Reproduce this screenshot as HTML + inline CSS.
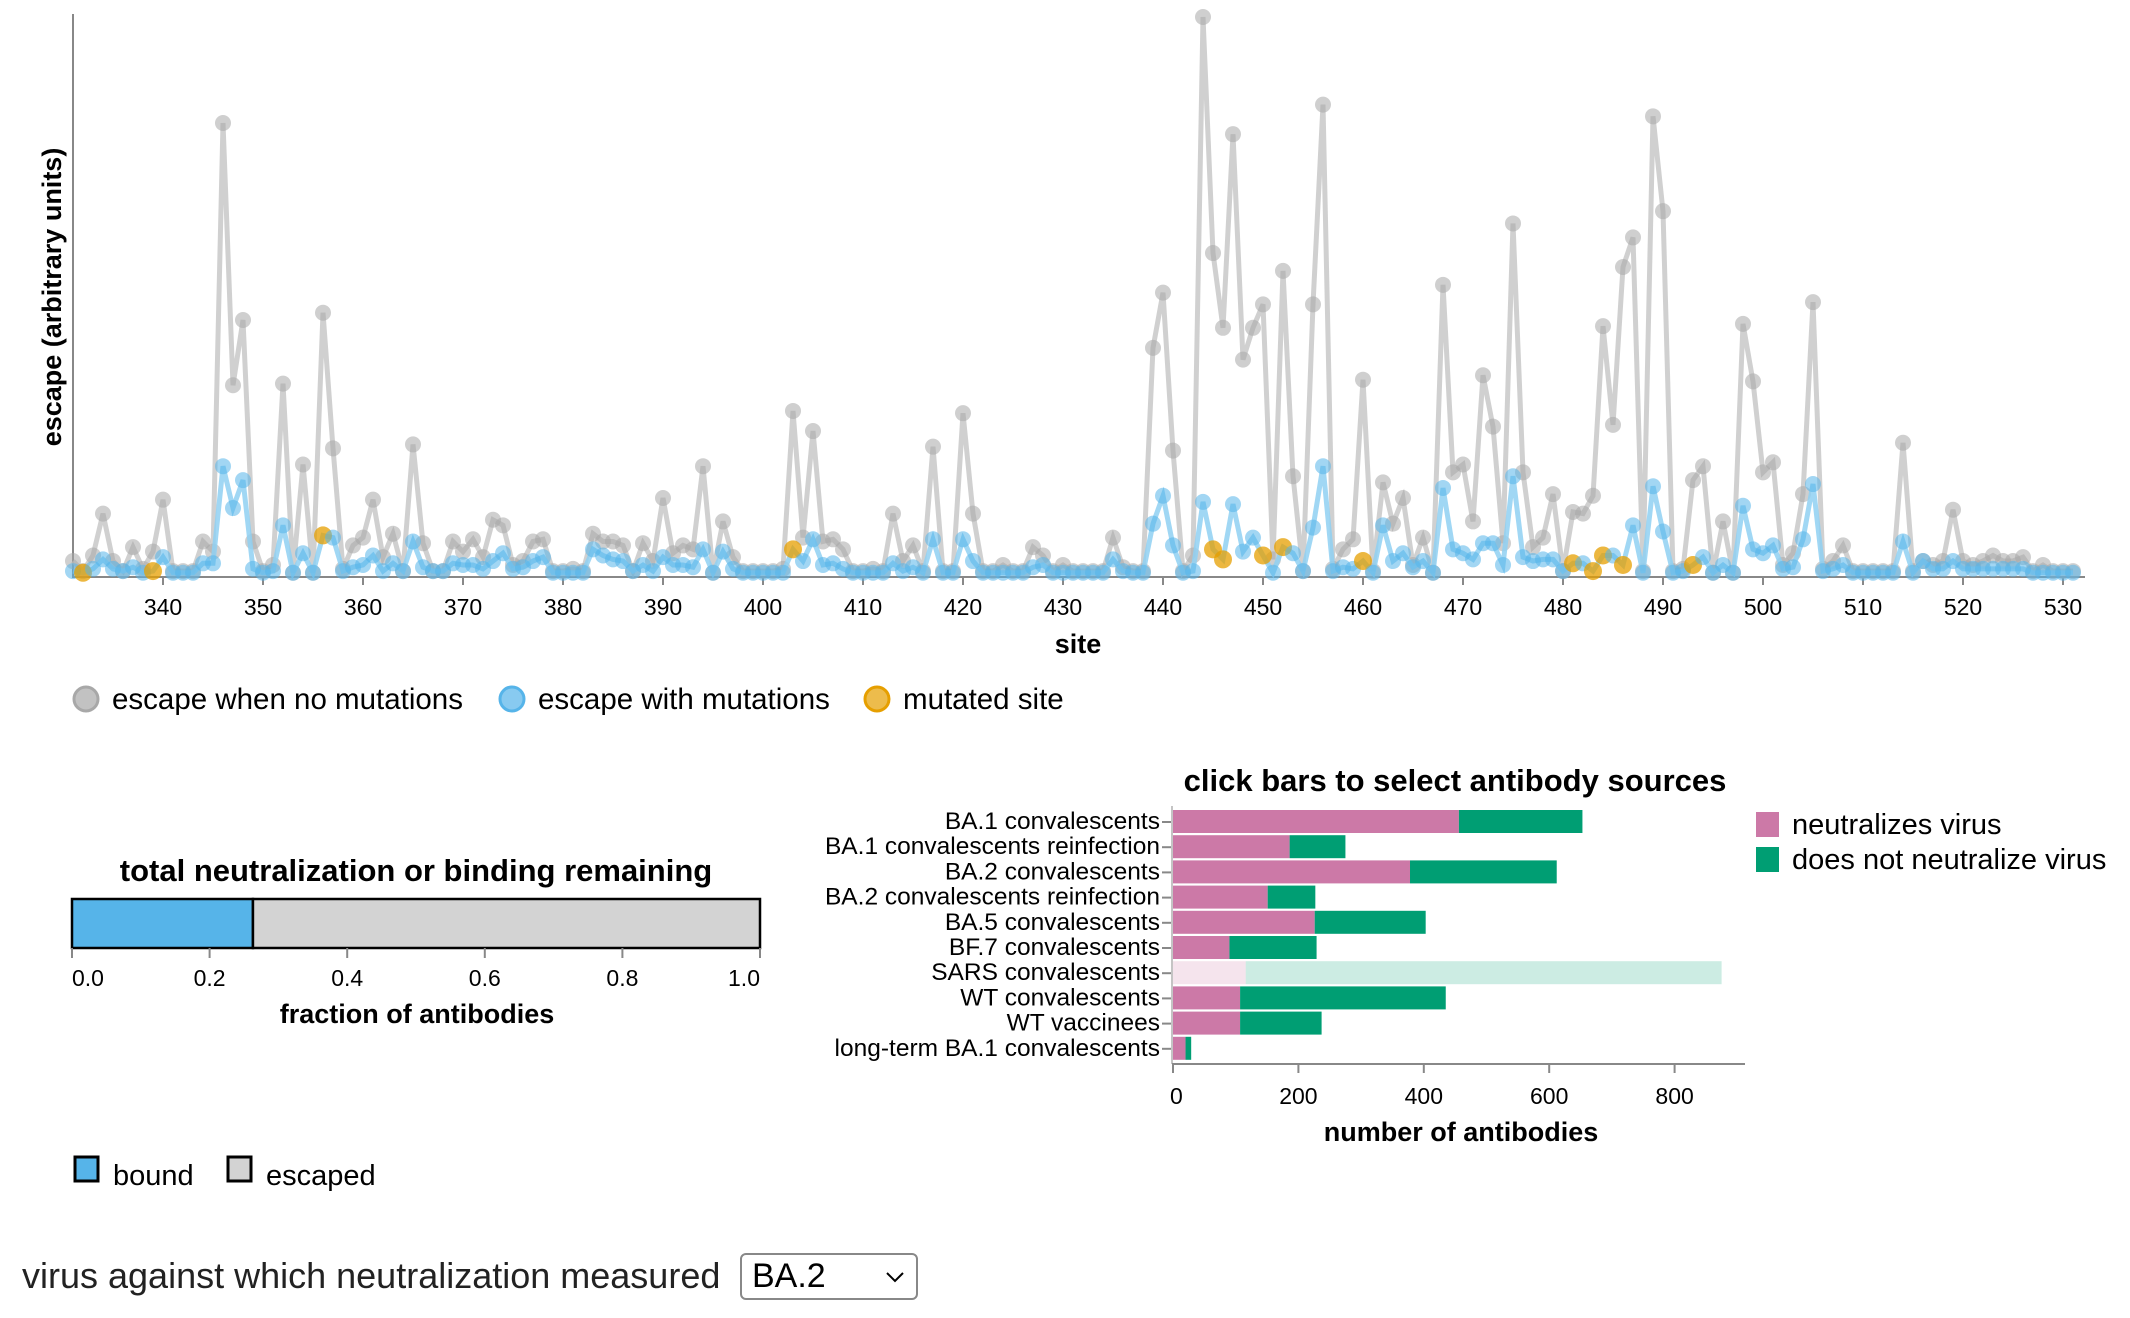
<!DOCTYPE html>
<html><head><meta charset="utf-8">
<style>
html,body{margin:0;padding:0;background:#fff;}
body{width:2130px;height:1318px;position:relative;overflow:hidden;font-family:"Liberation Sans",Arial,sans-serif;}
svg text{font-family:"Liberation Sans",Arial,sans-serif;}
#sel-label{position:absolute;left:22px;top:1255px;font-size:36px;color:#222;}
#virus-select{position:absolute;left:740px;top:1253px;width:178px;height:47px;border:2px solid #888;border-radius:6px;box-sizing:border-box;font-size:34px;color:#000;padding-left:10px;line-height:43px;}
</style></head>
<body>
<svg id="main" width="2130" height="1318" style="position:absolute;left:0;top:0"></svg>
<div id="sel-label">virus against which neutralization measured</div>
<div id="virus-select">BA.2<svg style="position:absolute;right:12px;top:16px" width="18" height="12"><polyline points="1,2 9,10 17,2" fill="none" stroke="#000" stroke-width="2"/></svg></div>
<script>
// ---------- line chart data ----------
const siteStart = 331;
const escapeNoMut = [2.5,0.7,3.5,11,2.5,0.7,5,1.1,4.2,13.5,
0.7,0.7,0.7,6,4.2,81,34,45.7,6,0.7,
1.8,34.3,0.4,19.8,0.4,47,22.7,1.1,5.3,6.7,
13.5,3.2,7.4,0.7,23.4,5.7,0.7,0.7,6,4.2,
6.4,3.2,9.9,8.9,1.8,2.5,6,6.4,0.7,0.7,
1.1,0.7,7.4,6,6,5.3,0.7,5.7,2.5,13.8,
3.9,5.3,4.6,19.5,0.4,9.6,3.2,0.7,0.7,0.7,
0.7,1.1,29.4,6.7,25.8,6,6.4,4.6,0.7,0.7,
1.1,0.7,11,2.5,5.3,0.7,23,0.7,0.7,29,
11,0.7,0.7,1.8,0.7,0.7,5,3.5,0.7,1.8,
0.7,0.7,0.7,0.7,6.7,1.4,0.7,0.7,40.7,50.6,
22.3,0.7,3.5,100,57.7,44.3,79,38.6,44.3,48.5,
2.8,54.5,17.7,0.7,48.5,84.3,1.1,4.6,6.4,35,
0.7,16.6,9.2,13.8,1.8,6.7,0.4,52,18.4,19.8,
9.6,35.8,26.6,5.7,63,18.4,5,6.7,14.5,0.7,
11.3,11,14.2,44.6,26.9,55.2,60.5,0.7,82.2,65.2,
0.7,1.1,17,19.5,0.4,9.6,0.4,45,34.7,18.4,
20.2,1.8,3.9,14.5,48.9,1.1,2.5,5.3,0.7,0.7,
0.7,0.7,0.7,23.7,0.7,2.5,1.8,2.5,11.7,2.5,
1.8,2.5,3.5,2.5,2.5,3.2,0.7,1.8,0.7,0.7,0.7];
const escapeWithMut = [0.7,0.4,1.1,2.8,1.1,0.7,1.4,0.4,0.7,3.2,
0.4,0.4,0.4,2.1,2.1,19.5,12,17,1.1,0.4,
0.7,8.9,0.4,3.9,0.4,7.1,6.7,0.7,1.4,1.8,
3.5,0.7,2.1,0.7,6,1.4,0.7,0.7,2.1,1.8,
1.8,1.1,2.5,3.9,1.1,1.4,2.5,3.2,0.4,0.4,
0.4,0.4,4.6,3.5,2.8,2.5,0.7,1.8,0.7,3.2,
1.8,1.8,1.4,4.6,0.4,4.2,1.1,0.4,0.4,0.4,
0.4,0.4,4.6,2.5,6.4,1.8,2.1,1.1,0.4,0.4,
0.4,0.4,2.1,0.7,1.4,0.4,6.4,0.4,0.4,6.4,
2.5,0.4,0.4,0.4,0.4,0.4,1.4,1.8,0.4,0.4,
0.4,0.4,0.4,0.4,2.8,0.7,0.4,0.4,9.2,14.2,
5.3,0.4,0.7,13.1,4.6,2.8,12.7,4.2,6.7,3.5,
0.4,5,3.9,0.7,8.5,19.5,0.7,1.4,1.1,2.5,
0.4,8.9,2.5,3.9,1.4,2.5,0.4,15.6,4.6,3.9,
2.8,5.7,5.7,1.8,17.7,3.2,2.5,2.8,2.8,0.7,
2.1,2.1,0.7,3.5,3.5,1.8,8.9,0.4,15.9,7.8,
0.4,0.7,1.8,3.2,0.4,1.8,0.4,12.4,4.6,3.9,
5.3,1.1,1.4,6.4,16.3,0.7,1.1,1.8,0.4,0.4,
0.4,0.4,0.4,6,0.4,2.5,1.1,1.1,2.5,1.1,
1.1,1.1,1.1,1.1,1.1,1.1,0.4,0.4,0.4,0.4,0.4];
const mutatedSites = [332,339,356,403,445,446,450,452,460,481,483,484,486,493];
const siteTicks = [340,350,360,370,380,390,400,410,420,430,440,450,460,470,480,490,500,510,520,530];

// ---------- bar chart data ----------
const sources = ["BA.1 convalescents","BA.1 convalescents reinfection","BA.2 convalescents","BA.2 convalescents reinfection","BA.5 convalescents","BF.7 convalescents","SARS convalescents","WT convalescents","WT vaccinees","long-term BA.1 convalescents"];
const neutralizing = [456,186,378,151,226,90,116,107,107,20];
const nonNeutralizing = [197,89,234,76,177,139,759,328,130,9];
const selectedSource = [true,true,true,true,true,true,false,true,true,true];
const countTicks = [0,200,400,600,800];

// ---------- fraction bar data ----------
const fractionBound = [0.263];
const fractionTicks = [0.0,0.2,0.4,0.6,0.8,1.0];

const NS = "http://www.w3.org/2000/svg";
const svg = document.getElementById('main');
function mk(tag, attrs, parent, text){
  const e = document.createElementNS(NS, tag);
  for (const k in attrs) e.setAttribute(k, attrs[k]);
  if (text !== undefined) e.textContent = text;
  (parent||svg).appendChild(e);
  return e;
}

// ===== line chart =====
const xS = s => 163 + (s - 340) * 10;
const yS = v => 575 - v * 5.58;
const lc = mk('g', {});


const yAxis = mk('line', {x1:73,y1:14,x2:73,y2:577,stroke:'#888','stroke-width':2}, lc);


const xAxis = mk('line', {x1:72,y1:577,x2:2085,y2:577,stroke:'#888','stroke-width':2}, lc);


siteTicks.forEach(t => {
  mk('line', {x1:xS(t),y1:577,x2:xS(t),y2:585,stroke:'#888','stroke-width':2}, lc);
  const tl = mk('text', {x:xS(t),y:615,'text-anchor':'middle','font-size':23,fill:'#000'}, lc, String(t));
  
  
});
const xt = mk('text', {x:1078,y:653,'text-anchor':'middle','font-size':27,'font-weight':'bold'}, lc, 'site');


const yt = mk('text', {x:0,y:0,'text-anchor':'middle','font-size':27,'font-weight':'bold',transform:'translate(61,297) rotate(-90)'}, lc, 'escape (arbitrary units)');



function series(vals, lineColor, ptColor, name){
  const pts = vals.map((v,i) => xS(siteStart+i).toFixed(1)+','+yS(v).toFixed(1)).join(' ');
  const pl = mk('polyline', {points:pts,fill:'none',stroke:lineColor,'stroke-width':5,'stroke-linejoin':'miter','stroke-opacity':0.85}, lc);
  
  
  vals.forEach((v,i) => {
    const s = siteStart + i;
    const mut = mutatedSites.indexOf(s) >= 0 && name === 'escape-with-mutations';
    const c = mk('circle', {cx:xS(s),cy:yS(v),r:mut?9:8,fill:mut?'#e69f00':ptColor,'fill-opacity':mut?0.75:0.55}, lc);
    
    
  });
}
series(escapeNoMut, '#c8c8c8', '#a8a8a8', 'escape-no-mutations');
series(escapeWithMut, '#8fd0f2', '#56b4e9', 'escape-with-mutations');

// legend
const lg = mk('g', {});


[[86,'#a8a8a8','escape when no mutations'],[512,'#56b4e9','escape with mutations'],[877,'#e69f00','mutated site']].forEach(d => {
  const g = mk('g', {}, lg);
  
  
  mk('circle', {cx:d[0],cy:699,r:12,fill:d[1],'fill-opacity':0.7,stroke:d[1],'stroke-width':3}, g);
  mk('text', {x:d[0]+26,y:709,'font-size':29.5}, g, d[2]);
});

// ===== fraction bar =====
const fb = mk('g', {});


const fx = f => 72 + f * 688;
const ft = mk('text', {x:416,y:881,'text-anchor':'middle','font-size':31,'font-weight':'bold'}, fb, 'total neutralization or binding remaining');


const bb = mk('rect', {x:fx(0),y:899,width:fx(fractionBound[0])-fx(0),height:49,fill:'#56b4e9',stroke:'#000','stroke-width':2.5}, fb);


const eb = mk('rect', {x:fx(fractionBound[0]),y:899,width:fx(1)-fx(fractionBound[0]),height:49,fill:'#d3d3d3',stroke:'#000','stroke-width':2.5}, fb);


fractionTicks.forEach((t,i) => {
  mk('line', {x1:fx(t),y1:948,x2:fx(t),y2:958,stroke:'#888','stroke-width':2}, fb);
  const anchor = i===0?'start':(i===fractionTicks.length-1?'end':'middle');
  const l = mk('text', {x:fx(t),y:986,'text-anchor':anchor,'font-size':23}, fb, t.toFixed(1));
  
  
});
const fat = mk('text', {x:417,y:1023,'text-anchor':'middle','font-size':27,'font-weight':'bold'}, fb, 'fraction of antibodies');


[[73,'#56b4e9','bound'],[226,'#d3d3d3','escaped']].forEach(d => {
  const g = mk('g', {}, fb);
  
  
  mk('rect', {x:d[0]+2,y:1157,width:23,height:24,fill:d[1],stroke:'#000','stroke-width':3}, g);
  mk('text', {x:d[0]+40,y:1185,'font-size':29}, g, d[2]);
});

// ===== antibody source bar chart =====
const bc = mk('g', {});


const cx = v => 1173 + v * 0.627;
const rowY = i => 810 + i * 25.2;
const bt = mk('text', {x:1455,y:791,'text-anchor':'middle','font-size':31,'font-weight':'bold'}, bc, 'click bars to select antibody sources');


sources.forEach((s,i) => {
  const y = rowY(i);
  const op = selectedSource[i] ? 1 : 0.2;
  const r1 = mk('rect', {x:cx(0),y:y,width:cx(neutralizing[i])-cx(0),height:23,fill:'#cc79a7','fill-opacity':op}, bc);
  
  
  const r2 = mk('rect', {x:cx(neutralizing[i]),y:y,width:cx(neutralizing[i]+nonNeutralizing[i])-cx(neutralizing[i]),height:23,fill:'#009e73','fill-opacity':op}, bc);
  
  
  mk('line', {x1:1162,y1:y+12,x2:1171,y2:y+12,stroke:'#888','stroke-width':2}, bc);
  const l = mk('text', {x:1160,y:y+19,'text-anchor':'end','font-size':24.5}, bc, s);
  
  
});
const ba = mk('line', {x1:1172,y1:1064,x2:1745,y2:1064,stroke:'#888','stroke-width':2}, bc);


mk('line', {x1:1172,y1:806,x2:1172,y2:1064,stroke:'#888','stroke-width':1}, bc);
countTicks.forEach(t => {
  mk('line', {x1:cx(t),y1:1064,x2:cx(t),y2:1073,stroke:'#888','stroke-width':2}, bc);
  const l = mk('text', {x:t===0?cx(t)-3:cx(t),y:1104,'text-anchor':t===0?'start':'middle','font-size':23}, bc, String(t));
  
  
});
const cat = mk('text', {x:1461,y:1141,'text-anchor':'middle','font-size':27,'font-weight':'bold'}, bc, 'number of antibodies');


[[812,'#cc79a7','neutralizes virus'],[847,'#009e73','does not neutralize virus']].forEach(d => {
  const g = mk('g', {}, bc);
  
  
  mk('rect', {x:1756,y:d[0],width:23,height:25,fill:d[1]}, g);
  mk('text', {x:1792,y:d[0]+22,'font-size':29}, g, d[2]);
});
</script>
</body></html>
